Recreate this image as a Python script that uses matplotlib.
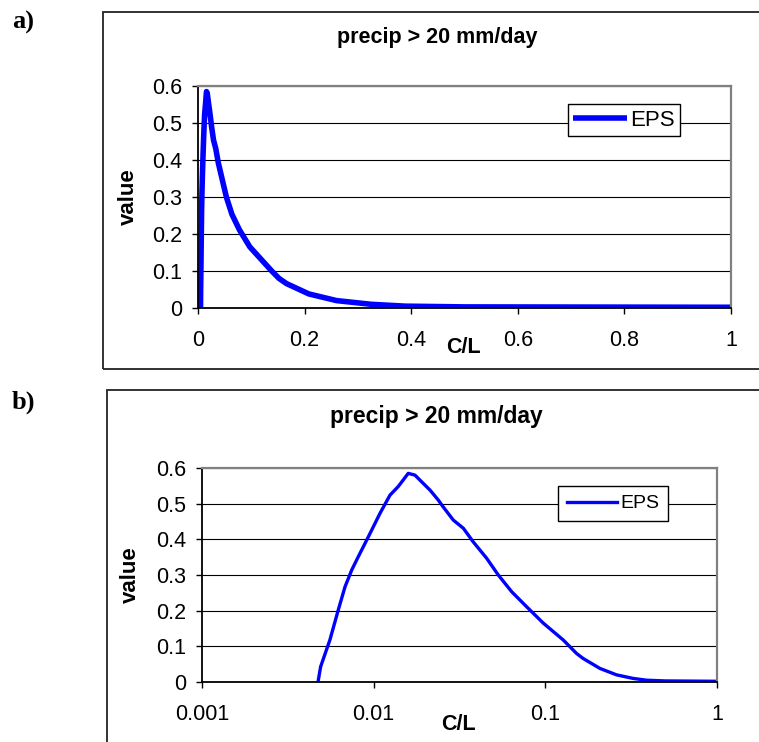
import matplotlib.pyplot as plt
from matplotlib.patches import Rectangle
from matplotlib.ticker import FuncFormatter, FixedLocator, NullLocator

# C/L and value (same series in both panels)
cl = [0.00474, 0.00491, 0.00556, 0.00622, 0.00681, 0.00745, 0.00813, 0.00931,
      0.01089, 0.01245, 0.0139, 0.0159, 0.0174, 0.0199, 0.0213, 0.0238, 0.0254,
      0.0291, 0.0333, 0.0380, 0.0455, 0.0532, 0.0637, 0.0778, 0.0973, 0.127,
      0.139, 0.152, 0.166, 0.208, 0.260, 0.325, 0.389, 0.5, 1.0]
value = [0.0, 0.043, 0.118, 0.202, 0.267, 0.314, 0.351, 0.407,
         0.473, 0.524, 0.548, 0.585, 0.580, 0.552, 0.538, 0.510, 0.491,
         0.454, 0.431, 0.393, 0.347, 0.300, 0.253, 0.211, 0.165, 0.118,
         0.099, 0.080, 0.066, 0.038, 0.020, 0.010, 0.005, 0.003, 0.002]

title = 'precip > 20 mm/day'
series_name = 'EPS'
yticks = [0, 0.1, 0.2, 0.3, 0.4, 0.5, 0.6]
xticks_lin = [0, 0.2, 0.4, 0.6, 0.8, 1]
xticks_log = [0.001, 0.01, 0.1, 1]

plt.rcParams['font.family'] = ['Liberation Sans', 'DejaVu Sans']

W, H = 759, 742
fig = plt.figure(figsize=(W / 100, H / 100), dpi=100, facecolor='w')


def fx(px):
    return px / W


def fy(py):
    return 1 - py / H


def style_axes(ax):
    ax.set_ylim(0, 0.6)
    ax.yaxis.set_major_locator(FixedLocator(yticks))
    ax.yaxis.set_major_formatter(FuncFormatter(lambda v, p: '%g' % v))
    ax.grid(axis='y', color='black', linewidth=0.8)
    ax.set_axisbelow(True)
    for s in ['top', 'right']:
        ax.spines[s].set_color('#808080')
        ax.spines[s].set_linewidth(1.6)
    for s in ['left', 'bottom']:
        ax.spines[s].set_color('black')
        ax.spines[s].set_linewidth(1.3)
    ax.tick_params(axis='y', direction='out', length=4.5, width=1, labelsize=15.5, pad=7)
    ax.tick_params(axis='x', direction='out', length=4, width=1, labelsize=15.5, pad=12)


# outer frames round each chart (cut off at the right like the original)
fig.patches.append(Rectangle((fx(103), fy(369)), 1.0, fy(12) - fy(369),
                             transform=fig.transFigure, fill=False,
                             edgecolor='#222222', linewidth=1.3))
fig.patches.append(Rectangle((fx(107), -0.05), 1.0, fy(390) + 0.05,
                             transform=fig.transFigure, fill=False,
                             edgecolor='#222222', linewidth=1.3))

# ---- a) linear axis
ax1 = fig.add_axes([fx(198), fy(308), fx(731) - fx(198), fy(86) - fy(308)])
ax1.plot(cl, value, color='#0000FF', linewidth=4, label=series_name,
         solid_joinstyle='round', solid_capstyle='butt')
ax1.set_xlim(0, 1)
ax1.xaxis.set_major_locator(FixedLocator(xticks_lin))
ax1.xaxis.set_major_formatter(FuncFormatter(lambda v, p: '%g' % v))
style_axes(ax1)
leg1 = ax1.legend(loc='upper left', bbox_to_anchor=(0.694, 0.919), borderaxespad=0,
                  fontsize=16, handlelength=2.4, handletextpad=0.15, borderpad=0.25,
                  fancybox=False, framealpha=1, edgecolor='black')
leg1.get_frame().set_linewidth(1)

# ---- b) log axis
ax2 = fig.add_axes([fx(202), fy(682), fx(717) - fx(202), fy(468) - fy(682)])
ax2.plot(cl, value, color='#0000FF', linewidth=2.4, label=series_name)
ax2.set_xscale('log')
ax2.set_xlim(0.001, 1)
ax2.xaxis.set_major_locator(FixedLocator(xticks_log))
ax2.xaxis.set_minor_locator(NullLocator())
ax2.xaxis.set_major_formatter(FuncFormatter(lambda v, p: '%g' % v))
style_axes(ax2)
leg2 = ax2.legend(loc='upper left', bbox_to_anchor=(0.691, 0.916), borderaxespad=0,
                  fontsize=14, handlelength=2.6, handletextpad=0.15, borderpad=0.45,
                  fancybox=False, framealpha=1, edgecolor='black')
leg2.get_frame().set_linewidth(1)

# titles, axis labels and panel letters
fig.text(fx(437), fy(38), title, ha='center', va='center', fontsize=15.5, fontweight='bold')
fig.text(fx(436), fy(417), title, ha='center', va='center', fontsize=16.5, fontweight='bold')
fig.text(fx(463), fy(348), 'C/L', ha='center', va='center', fontsize=15.5, fontweight='bold')
fig.text(fx(458), fy(725), 'C/L', ha='center', va='center', fontsize=15.5, fontweight='bold')
fig.text(fx(128), fy(197), 'value', ha='center', va='center', rotation=90,
         fontsize=16, fontweight='bold')
fig.text(fx(130), fy(575), 'value', ha='center', va='center', rotation=90,
         fontsize=16, fontweight='bold')
fig.text(fx(12), fy(22), 'a)', ha='left', va='center', fontsize=19,
         fontweight='bold', family='Liberation Serif')
fig.text(fx(12), fy(402), 'b)', ha='left', va='center', fontsize=19,
         fontweight='bold', family='Liberation Serif')

fig.savefig('out.png', dpi=100, facecolor='w')
